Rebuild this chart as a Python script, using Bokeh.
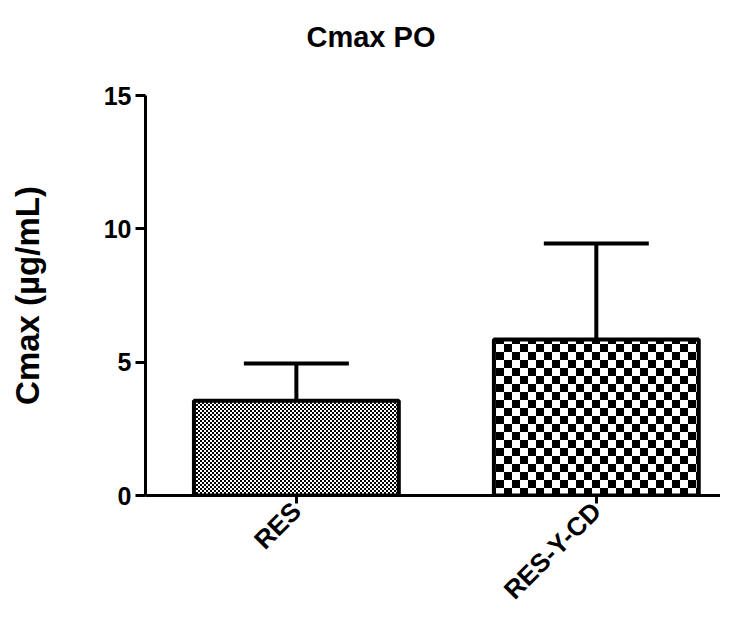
import math, zlib, struct, base64
from bokeh.plotting import figure
from bokeh.models import (ColumnDataSource, FixedTicker, Range1d, Whisker, TeeHead,
                          ImageURLTexture, Title)
from bokeh.embed import file_html
from bokeh.resources import INLINE

# ---- data ----
categories = ["RES", "RES-Y-CD"]
means = [3.55, 5.85]
sds = [1.4, 3.6]
patterns = ["fine", "coarse"]
y_ticks = [0, 5, 10, 15]

xs = list(range(len(categories)))
upper = [m + s for m, s in zip(means, sds)]

src = ColumnDataSource(dict(x=xs, mean=means, upper=upper))

FONT = "Liberation Sans"


def checker_png(cell):
    size = 2 * cell
    raw = b""
    for yy in range(size):
        row = b"\x00"
        for xx in range(size):
            black = ((xx // cell) + (yy // cell)) % 2 == 0
            row += b"\x00\x00\x00" if black else b"\xff\xff\xff"
        raw += row

    def chunk(tag, data):
        c = struct.pack(">I", len(data)) + tag + data
        return c + struct.pack(">I", zlib.crc32(tag + data) & 0xffffffff)

    png = b"\x89PNG\r\n\x1a\n"
    png += chunk(b"IHDR", struct.pack(">IIBBBBB", size, size, 8, 2, 0, 0, 0))
    png += chunk(b"IDAT", zlib.compress(raw))
    png += chunk(b"IEND", b"")
    return "data:image/png;base64," + base64.b64encode(png).decode()


p = figure(width=720, height=620, output_backend="svg", toolbar_location=None,
           x_range=Range1d(-0.503, 1.414), y_range=Range1d(0, 15),
           min_border_left=145, min_border_right=0, min_border_top=95,
           min_border_bottom=125)
p.outline_line_color = None
p.grid.visible = False
p.background_fill_color = "white"
p.border_fill_color = "white"

textures = {"fine": ImageURLTexture(url=checker_png(2), repetition="repeat"),
            "coarse": ImageURLTexture(url=checker_png(8), repetition="repeat")}

for i in range(len(categories)):
    p.vbar(x=[xs[i]], top=[means[i]], bottom=0, width=0.683,
           fill_color="white", line_color="black", line_width=4,
           hatch_pattern={"value": patterns[i]},
           hatch_color="black", hatch_extra=textures)

w = Whisker(source=src, base="x", upper="upper", lower="mean", dimension="height",
            line_width=4, line_color="black",
            upper_head=TeeHead(size=105, line_width=4, line_color="black"),
            lower_head=None)
p.add_layout(w)

# spacer between frame and title
p.add_layout(Title(text=" ", text_font_size="1px", standoff=18), "above")

# title
p.title.text = "Cmax PO"
p.title.align = "left"
p.title.vertical_align = "top"
p.title.offset = 161
p.title.standoff = 39
p.title.text_font = FONT
p.title.text_font_style = "bold"
p.title.text_font_size = "29px"
p.title.text_color = "black"

# y axis
ya = p.yaxis[0]
ya.ticker = FixedTicker(ticks=y_ticks)
ya.axis_label = "Cmax (µg/mL)"
ya.axis_label_text_font = FONT
ya.axis_label_text_font_style = "bold"
ya.axis_label_text_font_size = "33px"
ya.axis_label_text_color = "black"
ya.axis_label_standoff = 55
ya.major_label_text_font = FONT
ya.major_label_text_font_style = "bold"
ya.major_label_text_font_size = "25px"
ya.major_label_text_color = "black"
ya.major_label_standoff = 4
ya.axis_line_width = 3
ya.major_tick_line_width = 3
ya.major_tick_out = 10
ya.major_tick_in = 0
ya.minor_tick_line_color = None

# x axis
xa = p.xaxis[0]
xa.ticker = FixedTicker(ticks=xs)
xa.major_label_overrides = {x: c for x, c in zip(xs, categories)}
xa.major_label_orientation = math.pi / 4
xa.major_label_text_font = FONT
xa.major_label_text_font_style = "bold"
xa.major_label_text_font_size = "26px"
xa.major_label_text_color = "black"
xa.major_label_standoff = 3
xa.axis_line_width = 3
xa.major_tick_line_width = 3
xa.major_tick_out = 8
xa.major_tick_in = 0
xa.minor_tick_line_color = None

open("out.html", "w").write(file_html(p, INLINE))
